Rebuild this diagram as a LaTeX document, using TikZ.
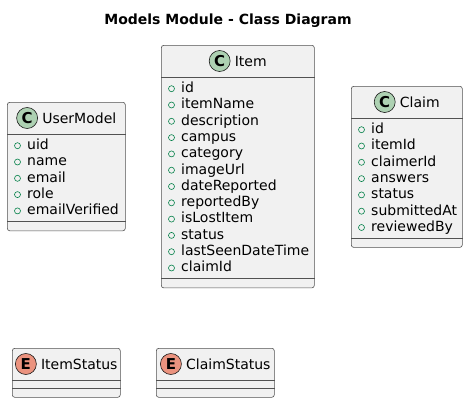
\documentclass[tikz,border=0pt]{standalone}
\usepackage{fontspec}
\setmainfont{DejaVu Sans}
\usetikzlibrary{calc}
\definecolor{boxfill}{HTML}{F1F1F1}
\definecolor{boxline}{HTML}{181818}
\definecolor{classc}{HTML}{ADD1B2}
\definecolor{enumc}{HTML}{EB937F}
\definecolor{attrc}{HTML}{038048}
\tikzset{
  boxst/.style={draw=boxline!75, fill=boxfill, line width=0.6pt, rounded corners=2.5pt, inner sep=0pt},
  sepst/.style={draw=boxline!75, line width=0.6pt},
  titlest/.style={inner sep=0pt, font=\fontsize{14}{16}\selectfont},
  circst/.style={circle, draw=boxline, line width=0.6pt, minimum size=21pt, inner sep=0pt, font=\bfseries\fontsize{15}{15}\selectfont},
  attrst/.style={inner sep=0pt, font=\fontsize{14}{16}\selectfont},
  markst/.style={draw=attrc, line width=0.6pt},
}
\newcommand\mkclass[9]{%
  \pgfmathsetmacro\mkH{32 + (#8>0 ? 16.3*#8+6 : 8) + 9}%
  \pgfmathsetmacro\mkS{\mkH-9}%
  \node[boxst, minimum width=#4pt, minimum height=\mkH pt, anchor=north west] (#1) at (#2pt,-#3pt) {};
  \draw[sepst] ($(#1.north west)+(0,-32pt)$) -- ($(#1.north east)+(0,-32pt)$);
  \draw[sepst] ($(#1.north west)+(0,-\mkS pt)$) -- ($(#1.north east)+(0,-\mkS pt)$);
  \node[titlest, anchor=base] (#1-title) at ($(#1.north)+(13pt,-21.5pt)$) {#7};
  \node[circst, fill=#6] (#1-circ) at ($(#1-title.base west)+(-15pt,5.5pt)$) {#5};
  \ifnum#8>0
  \foreach \a [count=\i] in {#9} {
    \pgfmathsetmacro\yb{32+15.5+(\i-1)*16.3}
    \node[attrst, anchor=base west] (#1-a\i) at ($(#1.north west)+(20pt,-\yb pt)$) {\a};
    \draw[markst] ($(#1.north west)+(10.5pt,-\yb pt+3.8pt)$) circle (3pt);
  }
  \fi
}
\begin{document}
\begin{tikzpicture}[x=1pt,y=1pt]
\useasboundingbox (0,0) rectangle (468,-402);
\fill[white] (0,0) rectangle (468,-402);
\node[font=\bfseries\fontsize{14}{16}\selectfont, inner sep=0pt, anchor=base] (title) at (228,-24) {Models Module - Class Diagram};
\mkclass{usermodel}{7}{102}{118}{C}{classc}{UserModel}{5}{uid,name,email,role,emailVerified}
\mkclass{item}{161}{45}{153}{C}{classc}{Item}{12}{id,itemName,description,campus,category,imageUrl,dateReported,reportedBy,isLostItem,status,lastSeenDateTime,claimId}
\mkclass{claim}{351}{86}{111}{C}{classc}{Claim}{7}{id,itemId,claimerId,answers,status,submittedAt,reviewedBy}
\mkclass{itemstatus}{12}{348}{108}{E}{enumc}{ItemStatus}{0}{}
\mkclass{claimstatus}{156}{348}{118}{E}{enumc}{ClaimStatus}{0}{}
\end{tikzpicture}
\end{document}
